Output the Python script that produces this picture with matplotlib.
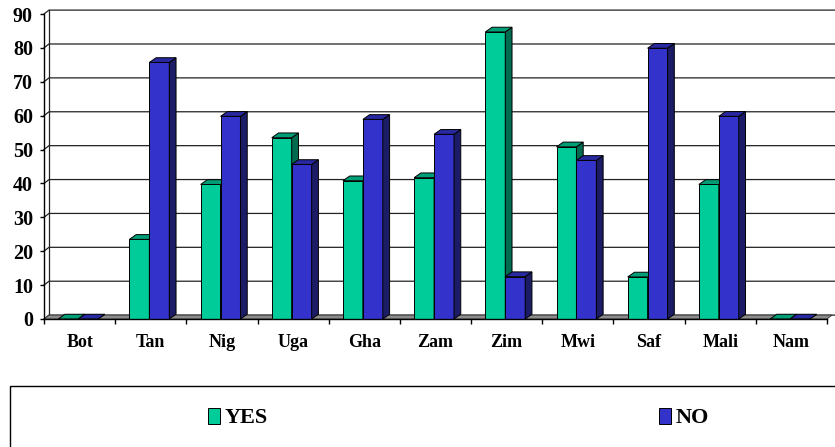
import matplotlib.pyplot as plt
import matplotlib as mpl
from matplotlib.patches import Polygon, Rectangle

SERIF = ['Liberation Serif', 'DejaVu Serif']
mpl.rcParams.update({'font.family': SERIF, 'font.weight': 'bold'})

countries = ['Bot', 'Tan', 'Nig', 'Uga', 'Gha', 'Zam', 'Zim', 'Mwi', 'Saf', 'Mali', 'Nam']
yes_vals = [0, 23.5, 39.7, 53.5, 40.8, 41.7, 84.7, 50.8, 12.4, 39.7, 0]
no_vals = [0, 75.7, 59.8, 45.6, 58.9, 54.5, 12.5, 46.8, 79.9, 59.8, 0]

GREEN = '#00CC99'; GREEN_SIDE = '#006B4F'; GREEN_TOP = '#009E76'
BLUE = '#3333CC'; BLUE_SIDE = '#1C1C66'; BLUE_TOP = '#2828A0'

W, H = 835, 447
fig = plt.figure(figsize=(W / 100, H / 100), dpi=100)
fig.patch.set_facecolor('white')
ax = fig.add_axes([44 / W, 1 - 319 / H, 783 / W, 305 / H])
n = len(countries)
ax.set_xlim(-0.5, n - 0.5)
ax.set_ylim(0, 90)

# depth of the fake 3d walls and bars (data units)
wdx, wdy = 0.07, 1.15
bdx, bdy = 0.095, 1.4

# back wall, side wall grid and floor
for v in range(0, 100, 10):
    ax.plot([-0.5, -0.5 + wdx, n - 0.5 + 0.3], [v, v + wdy, v + wdy],
            color='#222222', lw=0.9, zorder=1, clip_on=False)
ax.plot([-0.5 + wdx, -0.5 + wdx], [wdy, 90 + wdy], color='#222222', lw=0.9, zorder=1, clip_on=False)
ax.add_patch(Polygon([(-0.5, 0), (n - 0.5, 0), (n - 0.5 + wdx, wdy), (-0.5 + wdx, wdy)],
                     closed=True, facecolor='#8C8C8C', edgecolor='#333333', lw=0.6, zorder=2,
                     clip_on=False))

x = list(range(n))
bw = 0.28
off = 0.02
b_yes = ax.bar([i - bw / 2 - off for i in x], yes_vals, bw, color=GREEN, edgecolor='black', lw=0.7, zorder=3)
b_no = ax.bar([i + bw / 2 - off for i in x], no_vals, bw, color=BLUE, edgecolor='black', lw=0.7, zorder=3)

# side and top faces, drawn left to right so neighbours overlap properly
z = 3
for ry, rn in zip(b_yes.patches, b_no.patches):
    for r, side, top in ((ry, GREEN_SIDE, GREEN_TOP), (rn, BLUE_SIDE, BLUE_TOP)):
        x0, w, h = r.get_x(), r.get_width(), r.get_height()
        x1 = x0 + w
        r.set_zorder(z)
        ax.add_patch(Polygon([(x1, 0), (x1 + bdx, bdy), (x1 + bdx, h + bdy), (x1, h)], closed=True,
                             facecolor=side, edgecolor='black', lw=0.7, zorder=z, clip_on=False))
        ax.add_patch(Polygon([(x0, h), (x1, h), (x1 + bdx, h + bdy), (x0 + bdx, h + bdy)], closed=True,
                             facecolor=top, edgecolor='black', lw=0.7, zorder=z, clip_on=False))
        z += 0.01

for s in ['top', 'right']:
    ax.spines[s].set_visible(False)
for s in ['left', 'bottom']:
    ax.spines[s].set_linewidth(1.0)
    ax.spines[s].set_zorder(10)

ax.set_yticks(range(0, 100, 10))
ax.tick_params(axis='y', length=3, width=1, pad=5, labelsize=14.5)
ax.set_xticks([i - 0.5 for i in range(n + 1)])
ax.set_xticklabels([])
ax.set_xticks(x, minor=True)
ax.set_xticklabels(countries, minor=True)
ax.tick_params(axis='x', which='major', length=3.5, width=1)
ax.tick_params(axis='x', which='minor', length=0, pad=10.5, labelsize=13)
for lab in ax.get_yticklabels() + ax.get_xticklabels(minor=True):
    lab.set_fontweight('bold')
    lab.set_family(SERIF)

# legend frame (runs off the right and bottom edges)
fig.patches.append(Rectangle((10 / W, -0.1), 1.0, 0.1 + 1 - 386 / H, transform=fig.transFigure,
                             facecolor='none', edgecolor='black', lw=1.0))
for handle, label, px in ((b_yes, 'YES', 208), (b_no, 'NO', 659)):
    fig.legend([handle], [label], loc='center left', bbox_to_anchor=(px / W, 1 - 418 / H),
               frameon=False, borderpad=0, borderaxespad=0, handlelength=0.55, handleheight=0.75,
               handletextpad=0.2, prop={'family': SERIF, 'weight': 'bold', 'size': 16})

fig.savefig('out.png', dpi=100, facecolor='white')
